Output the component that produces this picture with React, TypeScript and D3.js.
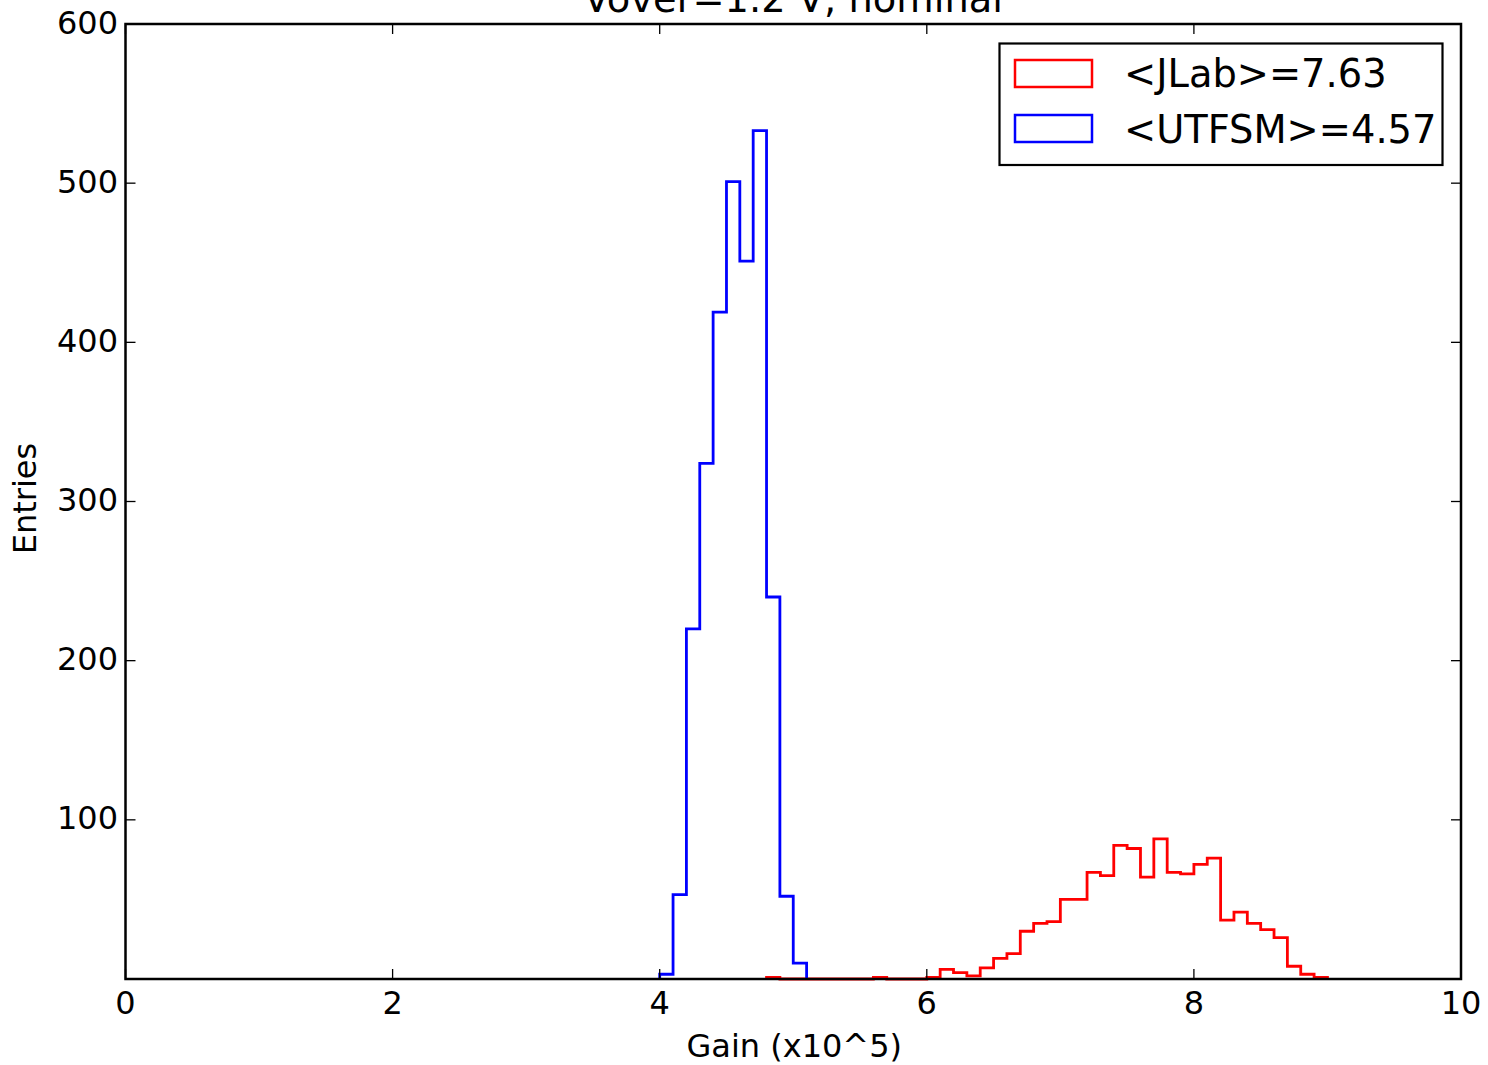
import React from "react";
import * as d3 from "d3";

const W = 1488;
const H = 1065;

const title = "Vover=1.2 V, nominal";
const xLabel = "Gain (x10^5)";
const yLabel = "Entries";

const binWidth = 0.1;
const redStart = 4.8;
const redValues = [
  1, 0, 0, 0, 0, 0, 0, 0, 1, 0, 0, 0,
  1, 6, 4, 2, 7, 13, 16, 30, 35, 36, 50, 50, 67, 65, 84, 82, 64, 88, 67, 66,
  72, 76, 37, 42, 35, 31, 26, 8, 3, 1,
];
const blueStart = 4.0;
const blueValues = [3, 53, 220, 324, 419, 501, 451, 533, 240, 52, 10];

const xTicks = [0, 2, 4, 6, 8, 10];
const yTicks = [0, 100, 200, 300, 400, 500, 600];
const yTickLabels = ["", "100", "200", "300", "400", "500", "600"];

const series = [
  { name: "<JLab>=7.63", color: "#ff0000", start: redStart, values: redValues },
  { name: "<UTFSM>=4.57", color: "#0000ff", start: blueStart, values: blueValues },
];

const L = 125.5, R = 1461, T = 24, B = 979;
const FONT = "'DejaVu Sans', sans-serif";

export default function App() {
  const x = d3.scaleLinear().domain([0, 10]).range([L, R]);
  const y = d3.scaleLinear().domain([0, 600]).range([B, T]);

  const stepPath = (start: number, values: number[]) => {
    const pts: [number, number][] = [[start, 0]];
    values.forEach((v, i) => {
      const x0 = start + i * binWidth;
      pts.push([x0, v], [x0 + binWidth, v]);
    });
    pts.push([start + values.length * binWidth, 0]);
    return d3.line<[number, number]>().x((d) => x(d[0])).y((d) => y(d[1]))(pts) || "";
  };

  const tickLen = 10;

  return (
    <svg width={W} height={H} style={{ display: "block", position: "absolute", left: 0, top: 0, background: "#fff" }} fontFamily={FONT}>
      <rect x={0} y={0} width={W} height={H} fill="#fff" />
      <text x={(L + R) / 2} y={12} fontSize={38.4} textAnchor="middle" fill="#000">{title}</text>

      {series.map((s) => (
        <path key={s.name} d={stepPath(s.start, s.values)} fill="none" stroke={s.color} strokeWidth={2.8} strokeLinejoin="miter" />
      ))}

      {/* ticks */}
      {xTicks.map((t) => (
        <g key={"xt" + t}>
          <line x1={x(t)} x2={x(t)} y1={B} y2={B - tickLen} stroke="#000" strokeWidth={1.3} />
          <line x1={x(t)} x2={x(t)} y1={T} y2={T + tickLen} stroke="#000" strokeWidth={1.3} />
          <text x={x(t)} y={1014} fontSize={32} textAnchor="middle" fill="#000">{t}</text>
        </g>
      ))}
      {yTicks.map((t, i) => (
        <g key={"yt" + t}>
          <line x1={L} x2={L + tickLen} y1={y(t)} y2={y(t)} stroke="#000" strokeWidth={1.3} />
          <line x1={R} x2={R - tickLen} y1={y(t)} y2={y(t)} stroke="#000" strokeWidth={1.3} />
          <text x={118} y={y(t) + 9.5} fontSize={32} textAnchor="end" fill="#000">{yTickLabels[i]}</text>
        </g>
      ))}

      <rect x={L} y={T} width={R - L} height={B - T} fill="none" stroke="#000" strokeWidth={2.5} />

      <text x={(L + R) / 2 + 1} y={1057} fontSize={32} textAnchor="middle" fill="#000">{xLabel}</text>
      <text transform={`translate(36,${(T + B) / 2 - 3}) rotate(-90)`} fontSize={32} textAnchor="middle" fill="#000">{yLabel}</text>

      {/* legend */}
      <rect x={999.5} y={43.5} width={443} height={121.5} fill="#fff" stroke="#000" strokeWidth={2.2} />
      {series.map((s, i) => (
        <g key={"lg" + s.name}>
          <rect x={1015} y={60 + i * 55} width={77} height={27} fill="none" stroke={s.color} strokeWidth={2.5} />
          <text x={1124} y={87 + i * 55.5} fontSize={38.4} fill="#000">{s.name}</text>
        </g>
      ))}
    </svg>
  );
}
